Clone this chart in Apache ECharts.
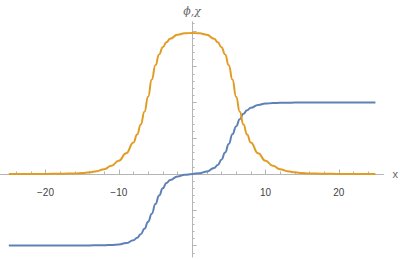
<!DOCTYPE html>
<html>
<head>
<meta charset="utf-8">
<script src="https://cdn.jsdelivr.net/npm/echarts@6/dist/echarts.min.js"></script>
<style>html,body{margin:0;padding:0;background:#fff;}#c{width:400px;height:260px;}</style>
</head>
<body>
<div id="c"></div>
<script>
// sample positions
var xs = [-25,-20,-18,-16,-15,-14,-13,-12,-11,-10,-9,-8,-7.5,-7,-6.5,-6,-5.5,-5,-4.5,-4,-3.5,-3,-2,-1,0,1,2,3,3.5,4,4.5,5,5.5,6,6.5,7,7.5,8,9,10,11,12,13,14,15,16,18,20,25];
// phi (orange bump)
var phi = [0,0.001,0.003,0.008,0.013,0.023,0.04,0.068,0.115,0.185,0.29,0.44,0.55,0.69,0.87,1.08,1.32,1.52,1.67,1.77,1.84,1.89,1.945,1.965,1.97,1.965,1.945,1.89,1.84,1.77,1.67,1.52,1.32,1.08,0.87,0.69,0.55,0.44,0.29,0.185,0.115,0.068,0.04,0.023,0.013,0.008,0.003,0.001,0];
// chi (blue kink)
var chi = [-1,-1,-1,-0.999,-0.998,-0.997,-0.996,-0.995,-0.99,-0.983,-0.965,-0.925,-0.89,-0.84,-0.765,-0.665,-0.555,-0.42,-0.3,-0.2,-0.125,-0.085,-0.034,-0.012,0,0.012,0.034,0.085,0.125,0.2,0.3,0.42,0.555,0.665,0.765,0.84,0.89,0.925,0.965,0.983,0.99,0.995,0.996,0.997,0.998,0.999,1,1,1];
// ticks
var xMajorTicks = [-20,-10,10,20];
var xMinorTicks = [-24,-22,-18,-16,-14,-12,-8,-6,-4,-2,2,4,6,8,12,14,16,18,22,24];
var yMajorTicks = [-1,-0.5,0.5,1,1.5,2];
var yMinorTicks = [-1.1,-0.9,-0.8,-0.7,-0.6,-0.4,-0.3,-0.2,-0.1,0.1,0.2,0.3,0.4,0.6,0.7,0.8,0.9,1.1,1.2,1.3,1.4,1.6,1.7,1.8,1.9,2.1];

var phiData = xs.map(function(x,i){return [x,phi[i]];});
var chiData = xs.map(function(x,i){return [x,chi[i]];});

var axisCol = '#b5b5b5';
var font = 'Liberation Sans, Arial, sans-serif';
var chart = echarts.init(document.getElementById('c'), null, {renderer:'svg'});
chart.setOption({
  animation:false,
  grid:{left:0, right:16.5, top:21.7, bottom:3, containLabel:false, outerBoundsMode:'none'},
  xAxis:[{
    type:'value', min:-26.2, max:26.1, position:'bottom',
    axisLine:{show:true, onZero:true, lineStyle:{color:axisCol, width:1}},
    axisTick:{show:true, inside:true, length:2.5, customValues:xMinorTicks, lineStyle:{color:axisCol}},
    axisLabel:{show:false},
    splitLine:{show:false},
    name:'x', nameLocation:'end', nameGap:9,
    nameTextStyle:{color:'#666', fontSize:11, fontFamily:font, verticalAlign:'middle'}
  },{
    type:'value', min:-26.2, max:26.1, position:'bottom',
    axisLine:{show:false, onZero:true},
    axisTick:{show:true, inside:true, length:4.5, customValues:xMajorTicks, lineStyle:{color:axisCol}},
    axisLabel:{show:false}, splitLine:{show:false}
  },{
    type:'value', min:-26.2, max:26.1, position:'bottom', offset:-83,
    axisLine:{show:false, onZero:false},
    axisTick:{show:false},
    axisLabel:{show:true, customValues:xMajorTicks, margin:13, color:'#444', fontSize:10, fontFamily:font,
      formatter:function(v){return String(v).replace('-','\u2212');}},
    splitLine:{show:false}
  }],
  yAxis:[{
    type:'value', min:-1.159, max:2.127, position:'left',
    axisLine:{show:true, onZero:true, lineStyle:{color:axisCol, width:1}},
    axisTick:{show:true, inside:true, length:2.5, customValues:yMinorTicks, lineStyle:{color:axisCol}},
    axisLabel:{show:false}, splitLine:{show:false},
    name:'\u03D5,\u03C7', nameLocation:'end', nameGap:5,
    nameTextStyle:{color:'#666', fontSize:11, fontStyle:'italic', fontFamily:'DejaVu Serif, serif', align:'center'}
  },{
    type:'value', min:-1.159, max:2.127, position:'left',
    axisLine:{show:false, onZero:true},
    axisTick:{show:true, inside:true, length:4.5, customValues:yMajorTicks, lineStyle:{color:axisCol}},
    axisLabel:{show:false}, splitLine:{show:false}
  }],
  series:[{
    type:'line', xAxisIndex:0, yAxisIndex:0, data:chiData, showSymbol:false, smooth:0.5, smoothMonotone:'x',
    lineStyle:{color:'#5E81B5', width:2}, itemStyle:{color:'#5E81B5'}
  },{
    type:'line', xAxisIndex:0, yAxisIndex:0, data:phiData, showSymbol:false, smooth:0.5, smoothMonotone:'x',
    lineStyle:{color:'#E19C24', width:2}, itemStyle:{color:'#E19C24'}
  }]
});
</script>
</body>
</html>
